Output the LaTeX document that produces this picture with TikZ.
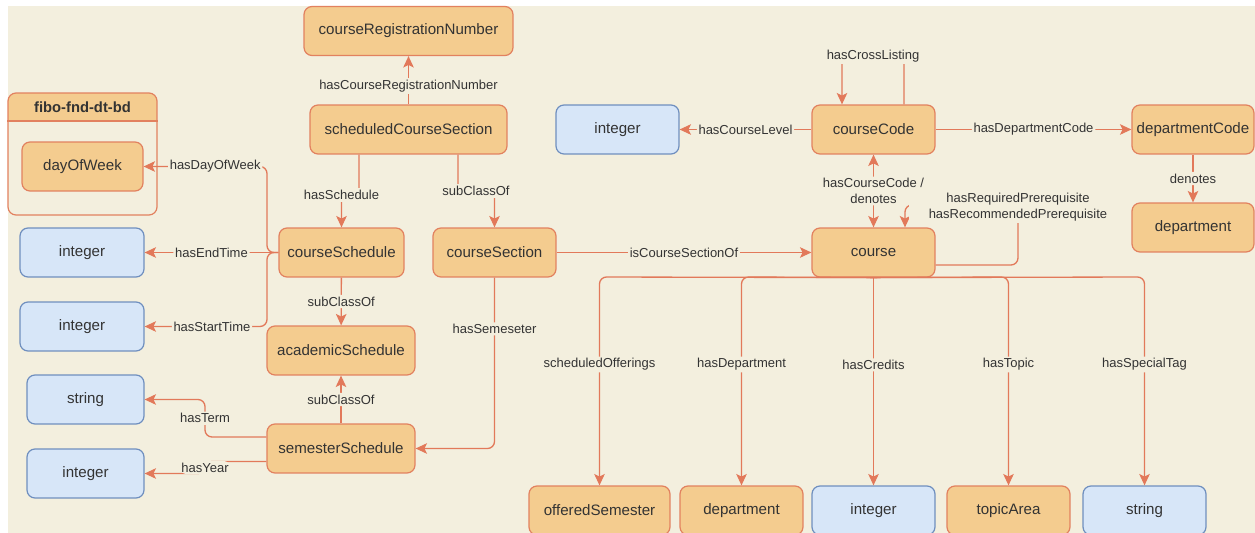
\documentclass[tikz,border=0pt]{standalone}
\usepackage{fontspec}
\setmainfont{Liberation Sans}
\usepackage{tikz}
\usetikzlibrary{arrows.meta}
\definecolor{bgc}{HTML}{F3EFDE}
\definecolor{clsfill}{HTML}{F4CC8F}
\definecolor{clsline}{HTML}{E2815F}
\definecolor{relc}{HTML}{E2795A}
\definecolor{dtfill}{HTML}{D7E6F8}
\definecolor{dtline}{HTML}{6F8FBF}
\definecolor{txt}{HTML}{333333}
\tikzset{every node/.style={text=txt},
  cls/.style={draw=clsline, fill=clsfill, rounded corners=0.16cm, line width=0.7pt,
    minimum width=2.46cm, minimum height=0.98cm, inner sep=0pt,
    font=\fontsize{8.6}{10}\selectfont},
  dt/.style={cls, draw=dtline, fill=dtfill},
  pkg/.style={draw=clsline, rounded corners=0.16cm, line width=0.7pt,
    minimum width=2.98cm, minimum height=2.44cm},
  rel/.style={draw=relc, line width=0.75pt, ->, rounded corners=0.14cm},
  lbl/.style={fill=bgc, inner sep=1pt, align=center,
    font=\fontsize{7.4}{8.8}\selectfont}}

\begin{document}
\begin{tikzpicture}[x=0.02cm,y=-0.02cm,>={Stealth[length=6.5pt,width=6pt,inset=1.5pt]}]
  \useasboundingbox (0,0) rectangle (1255,533);
  \fill[white] (0,0) rectangle (1255,533);
  \fill[bgc] (8,6) rectangle (1255,533);
  % package box
  \begin{scope}
    \clip[rounded corners=0.16cm] (8,93) rectangle (157,215);
    \fill[clsfill] (8,93) rectangle (157,121);
  \end{scope}
  \node[pkg] (fibo) at (82.5,154) {};
  \draw[clsline, line width=0.7pt] (fibo.west |- 0,121) -- (fibo.east |- 0,121);
  \node[font=\fontsize{8.4}{10}\selectfont\bfseries] (fibotitle) at (82.5,107) {fibo-fnd-dt-bd};
  \node[cls, minimum width=2.42cm] (dow) at (82.5,166.5) {dayOfWeek};
  % classes
  \node[cls, minimum width=4.18cm] (crn) at (408.5,31) {courseRegistrationNumber};
  \node[cls, minimum width=3.94cm] (scs) at (408.5,129.5) {scheduledCourseSection};
  \node[cls, minimum width=2.5cm] (csch) at (341.5,252.5) {courseSchedule};
  \node[cls, minimum width=2.96cm] (acs) at (341,350.5) {academicSchedule};
  \node[cls, minimum width=2.96cm] (sems) at (341,448.5) {semesterSchedule};
  \node[cls] (csec) at (494.5,252.5) {courseSection};
  \node[cls] (ccode) at (873.5,129.5) {courseCode};
  \node[cls, minimum width=2.44cm] (dcode) at (1193,129.5) {departmentCode};
  \node[cls, minimum width=2.44cm] (dept1) at (1193,227.5) {department};
  \node[cls] (course) at (873.5,252.5) {course};
  \node[cls, minimum width=2.82cm] (offs) at (599.5,510.5) {offeredSemester};
  \node[cls] (dept2) at (741.5,510.5) {department};
  \node[cls] (topic) at (1008.5,510.5) {topicArea};
  % datatypes
  \node[dt, minimum width=2.48cm] (int1) at (82,252.5) {integer};
  \node[dt, minimum width=2.48cm] (int2) at (82,326.5) {integer};
  \node[dt, minimum width=2.34cm] (str1) at (85.5,399.5) {string};
  \node[dt, minimum width=2.34cm] (int3) at (85.5,473.5) {integer};
  \node[dt] (intl) at (617.5,129.5) {integer};
  \node[dt] (intc) at (873.5,510.5) {integer};
  \node[dt] (str2) at (1144.5,510.5) {string};

  % relations
  \draw[rel] (scs) -- (crn) node[lbl, pos=0.38] {hasCourseRegistrationNumber};
  \draw[rel] (scs.south -| 359,0) -- (359,195) -- (341.5,195) -- (csch.north);
  \node[lbl] (lsched) at (341.5,195) {hasSchedule};
  \draw[rel] (scs.south -| 458,0) -- (458,191) -- (494.5,191) -- (csec.north);
  \node[lbl] (lsub1) at (476,191) {subClassOf};
  \draw[rel] (csch) -- (int1) node[lbl, midway] {hasEndTime};
  \draw[rel] (csch.west) -- (267,252.5) -- (267,166.5) -- (dow.east) node[lbl, pos=0.42] {hasDayOfWeek};
  \draw[rel] (csch.west) -- (267,252.5) -- (267,326.5) -- (int2.east) node[lbl, pos=0.45] {hasStartTime};
  \draw[rel] (csch) -- (acs) node[lbl, midway] {subClassOf};
  \draw[rel] (sems) -- (acs) node[lbl, midway] {subClassOf};
  \draw[rel] (sems.west |- 0,437) -- (205,437) -- (205,399.5) node[lbl, midway] {hasTerm} -- (str1.east);
  \draw[rel] (sems.west |- 0,461.5) -- (205,461.5) -- (205,473.5) node[lbl, midway] {hasYear} -- (int3.east);
  \draw[rel] (csec.south) -- (494.5,448.5) node[lbl, pos=0.3] {hasSemeseter} -- (sems.east);
  \draw[rel] (csec) -- (course) node[lbl, midway] {isCourseSectionOf};
  \draw[rel] (ccode) -- (intl) node[lbl, midway] {hasCourseLevel};
  \draw[rel] (ccode) -- (dcode) node[lbl, midway] {hasDepartmentCode};
  \draw[rel] (dcode) -- (dept1) node[lbl, midway] {denotes};
  \draw[rel] (ccode.north -| 904,0) -- (904,56) -- (842,56) node[lbl, midway] {hasCrossListing} -- (ccode.north -| 842,0);
  \draw[rel, <->] (course) -- (ccode) node[lbl, midway] {hasCourseCode /\\denotes};
  \draw[rel] (course.east |- 0,265) -- (1018,265) -- (1018,205) -- (905,205) -- (course.north -| 905,0);
  \node[lbl, text width=4.3cm] (lprereq) at (1018,207) {hasRequiredPrerequisite\\hasRecommendedPrerequisite};
  \draw[rel] (course.south) -- (599.5,277) -- (offs.north) node[lbl, pos=0.42] {scheduledOfferings};
  \draw[rel] (course.south) -- (741.5,277) -- (dept2.north) node[lbl, pos=0.42] {hasDepartment};
  \draw[rel] (course) -- (intc) node[lbl, pos=0.42] {hasCredits};
  \draw[rel] (course.south) -- (1008.5,277) -- (topic.north) node[lbl, pos=0.42] {hasTopic};
  \draw[rel] (course.south) -- (1144.5,277) -- (str2.north) node[lbl, pos=0.42] {hasSpecialTag};
\end{tikzpicture}
\end{document}
